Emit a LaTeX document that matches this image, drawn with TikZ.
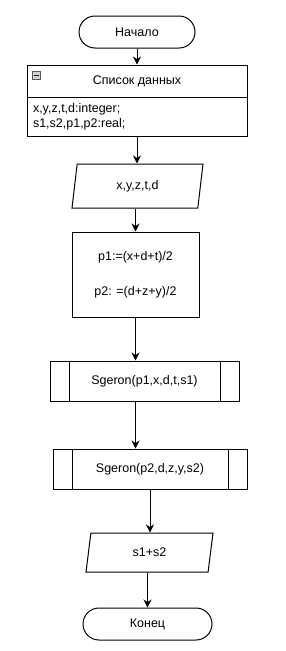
\documentclass[tikz,border=0pt]{standalone}
\usepackage{fontspec}
\setmainfont{Liberation Sans}
\usetikzlibrary{arrows.meta,shapes.geometric}
\newcommand{\flowfont}{\fontsize{12.5}{15}\selectfont}
\tikzset{
  arr/.style={-{Stealth[length=8pt,width=8pt]}, line width=1pt},
  blk/.style={draw, line width=1pt, font=\flowfont, inner sep=0pt},
  term/.style={blk, rounded corners=16pt, minimum height=32pt},
  io/.style={blk, trapezium, trapezium stretches body,
    trapezium left angle=#1, trapezium right angle=180-#1},
  sub/.style={blk, minimum height=40pt}
}
\begin{document}
\begin{tikzpicture}[x=1pt,y=-1pt]
  \useasboundingbox[fill=white] (0,0) rectangle (286,651);
  % begin and data block
  \node[term, minimum width=116pt] (start) at (137,32) {Начало};
  \node[blk, minimum width=220pt, minimum height=32pt] (datahead) at (137,81) {Список данных};
  \node[blk, text width=208pt, inner xsep=6pt, minimum height=39pt, align=left] (databody) at (137,116.5)
    {x,y,z,t,d:integer;\\s1,s2,p1,p2:real;};
  \node[draw=gray!70!black, fill=gray!35, line width=0.6pt, minimum size=8pt, inner sep=0pt] (fold) at (36.5,75.5) {};
  \draw[gray!20!black, line width=1pt] ([xshift=1.5pt]fold.west) -- ([xshift=-1.5pt]fold.east);
  % input, process, calls
  \node[io=66, minimum width=131pt, minimum height=44pt] (in1) at (137.5,186) {x,y,z,t,d};
  \node[blk, minimum width=127pt, minimum height=85pt, align=center] (proc) at (135.5,274.5)
    {p1:=(x+d+t)/2\\[20pt]p2: =(d+z+y)/2};
  \node[sub, minimum width=189pt] (sub1) at (144.5,381) {Sgeron(p1,x,d,t,s1)};
  \node[sub, minimum width=194pt] (sub2) at (150,469) {Sgeron(p2,d,z,y,s2)};
  \foreach \s in {sub1,sub2}{
    \draw[line width=1pt] ([xshift=20pt]\s.north west) -- ([xshift=20pt]\s.south west);
    \draw[line width=1pt] ([xshift=-19pt]\s.north east) -- ([xshift=-19pt]\s.south east);
  }
  % output and end
  \node[io=61, minimum width=127pt, minimum height=39pt] (out2) at (149.5,552.5) {s1+s2};
  \node[term, minimum width=129pt] (stop) at (147.5,624) {Конец};
  % connectors
  \draw[arr] (start.south) -- (datahead.north);
  \draw[arr] (databody.south) -- (databody.south |- in1.north);
  \draw[arr] (in1.south -| proc.north) -- (proc.north);
  \draw[arr] (proc.south) -- (proc.south |- sub1.north);
  \draw[arr] (sub1.south -| proc.south) -- (sub2.north -| proc.south);
  \draw[arr] (sub2.south) -- (sub2.south |- out2.north);
  \draw[arr] (out2.south -| stop.north) -- (stop.north);
\end{tikzpicture}
\end{document}
